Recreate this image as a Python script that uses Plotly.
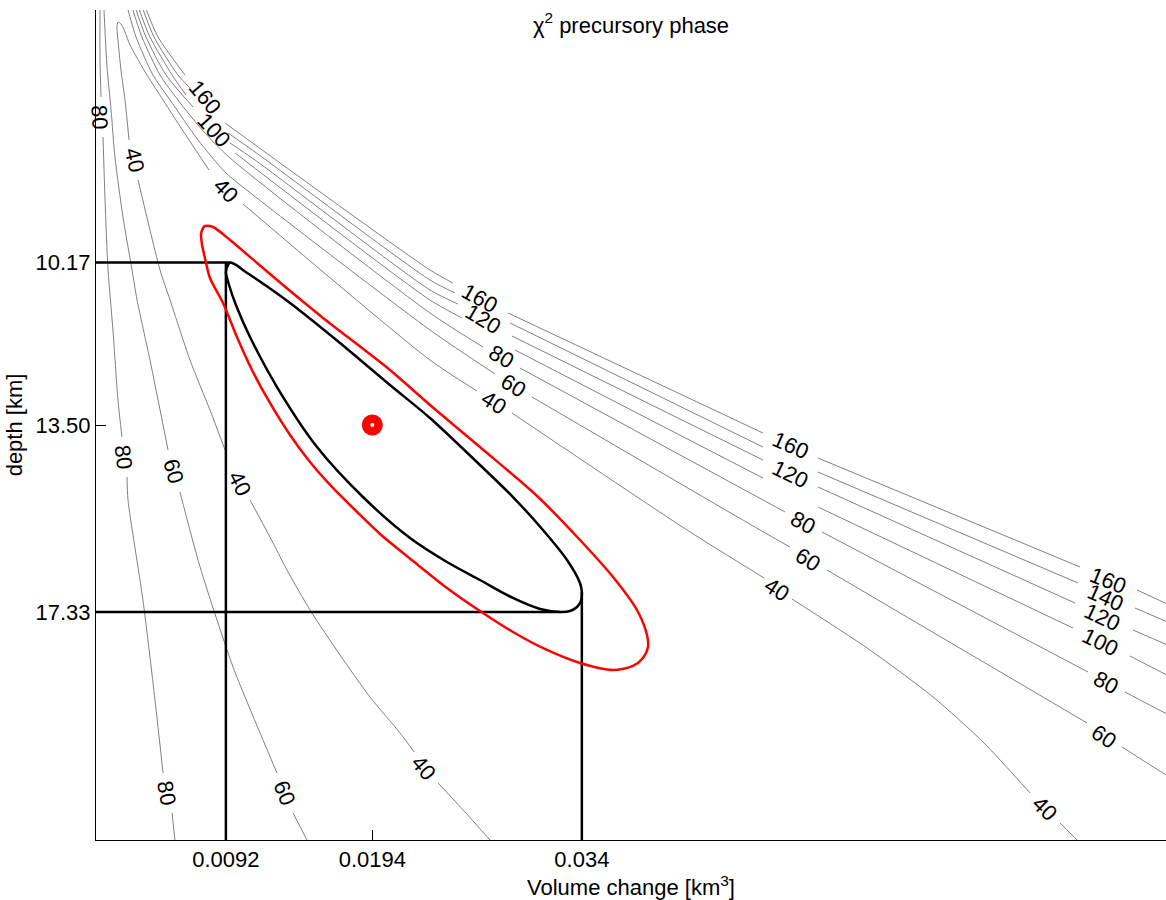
import plotly.graph_objects as go

FONT = "Liberation Sans, Arial, Helvetica, sans-serif"

# ---------------------------------------------------------------------------
# Chi-square misfit contours of the precursory phase.
# Each line is given as volume change [km^3] and source depth [km];
# None marks the break where the level's inline label sits.
# ---------------------------------------------------------------------------
chi40_vol = [0.0282, 0.02586, 0.02398, None, 0.02232, 0.02133, 0.01924, 0.01715,
             0.01506, 0.01346, 0.01227, 0.01088, None, 0.00914, 0.00809, 0.0067,
             0.00531, 0.00461, 0.00391, 0.00308, None, 0.00245, 0.00217, 0.00189,
             0.00168, 0.00161, 0.00168, 0.00189, 0.00217, 0.00252, 0.0037, 0.00482,
             0.00649, 0.00802, None, 0.01039, 0.02342, 0.0267, None, 0.02913,
             0.04133, 0.0467, None, 0.04864, 0.05387, 0.05847, 0.06195, 0.06523,
             None, 0.06732, 0.0685, 0.0692]
chi40_dep = [22.2, 21.426, 20.832, None, 20.198, 19.808, 19.071, 18.211,
             17.289, 16.47, 15.794, 15.036, None, 14.012, 13.193, 12.169,
             10.94, 10.325, 9.506, 8.482, None, 7.663, 6.843, 6.229,
             5.614, 5.369, 5.246, 5.287, 5.451, 5.717, 6.331, 6.843,
             7.601, 8.277, None, 8.973, 12.169, 12.804, None, 13.254,
             15.65, 16.634, None, 17.064, 18.067, 19.071, 19.993, 21.037,
             None, 21.652, 22.0, 22.2]

chi60_left_vol = [0.00069, 0.00092, 0.0012, 0.00147, 0.00203, 0.00266, 0.00301, 0.00391,
                  0.00517, None, 0.006, 0.0074, 0.0097, 0.01158, 0.01276, None,
                  0.01388, 0.01485, 0.0152]
chi60_left_dep = [4.9, 6.167, 7.048, 8.011, 9.24, 10.325, 10.94, 12.169,
                  14.012, None, 14.872, 16.408, 18.457, 19.808, 20.628, None,
                  21.447, 22.0, 22.2]

chi60_right_vol = [0.00229, 0.00294, 0.00412, 0.00531, 0.00726, 0.00914, 0.01109, 0.02342,
                   0.02795, None, 0.03053, 0.04641, 0.0485, None, 0.05108, 0.0692,
                   None, 0.07164, 0.07449, 0.07533]
chi60_right_dep = [4.9, 5.553, 6.331, 6.843, 7.663, 8.318, 8.789, 11.554,
                   12.455, None, 12.927, 15.65, 15.999, None, 16.47, 19.603,
                   None, 20.095, 20.628, 20.771]

chi80_left_vol = [0.00043, 0.00043, 0.0005, None, 0.00064, 0.00078, 0.00099, 0.00133,
                  0.00168, 0.00196, None, 0.00231, 0.00238, 0.00342, 0.00426, 0.00482,
                  None, 0.00545, 0.00565, 0.00572]
chi80_left_dep = [4.9, 6.024, 6.782, None, 7.601, 8.892, 10.325, 11.554,
                  12.988, 13.746, None, 14.565, 15.036, 17.084, 19.133, 20.628,
                  None, 21.447, 22.0, 22.2]

chi80_right_vol = [0.00262, 0.00335, 0.00461, 0.00586, 0.00761, 0.00949, 0.02342, 0.02711,
                   None, 0.02969, 0.04816, None, 0.05073, 0.06927, None, 0.07184,
                   0.07449, 0.07533]
chi80_right_dep = [4.9, 5.553, 6.331, 6.843, 7.478, 8.031, 11.206, 11.902,
                   None, 12.333, 15.282, None, 15.691, 18.559, None, 18.969,
                   19.378, 19.501]

chi100_vol = [0.00283, 0.00363, 0.00503, 0.00691, None, 0.00984, 0.02342, 0.02565,
              None, 0.02934, 0.04662, None, 0.05045, 0.06822, None, 0.07219,
              0.07449, 0.07533]
chi100_dep = [4.9, 5.553, 6.331, 6.987, None, 7.929, 10.94, 11.308,
              None, 11.964, 14.586, None, 15.179, 17.658, None, 18.231,
              18.58, 18.702]

chi120_vol = [0.00304, 0.00391, 0.00545, 0.00642, None, 0.00949, 0.01123, 0.02342,
              0.02537, None, 0.02913, 0.04662, None, 0.05045, 0.06836, None,
              0.0724, 0.07449, 0.07533]
chi120_dep = [4.9, 5.553, 6.331, 6.741, None, 7.724, 8.072, 10.735,
              11.022, None, 11.677, 14.217, None, 14.77, 17.146, None,
              17.699, 17.965, 18.067]

chi140_vol = [0.00332, 0.00419, 0.00586, 0.0067, None, 0.00935, 0.01123, 0.02342,
              0.02516, None, 0.029, 0.04662, None, 0.05045, 0.06857, None,
              0.07254, 0.07449, 0.07533]
chi140_dep = [4.9, 5.553, 6.331, 6.598, None, 7.519, 7.908, 10.53,
              10.796, None, 11.411, 13.951, None, 14.463, 16.736, None,
              17.248, 17.494, 17.596]

chi160_vol = [0.00353, 0.00447, 0.00635, None, 0.00914, 0.02342, 0.02502, None,
              0.02886, 0.04662, None, 0.05045, 0.06871, None, 0.07268, 0.07449,
              0.07533]
chi160_dep = [4.9, 5.553, 6.331, None, 7.314, 10.325, 10.592, None,
              11.206, 13.664, None, 14.176, 16.408, None, 16.879, 17.125,
              17.228]

contour_lines = [
    (chi40_vol, chi40_dep),
    (chi60_left_vol, chi60_left_dep),
    (chi60_right_vol, chi60_right_dep),
    (chi80_left_vol, chi80_left_dep),
    (chi80_right_vol, chi80_right_dep),
    (chi100_vol, chi100_dep),
    (chi120_vol, chi120_dep),
    (chi140_vol, chi140_dep),
    (chi160_vol, chi160_dep),
]

# inline contour labels: level text, volume, depth, text rotation (deg)
contour_labels = [
    ("80", 0.00043, 7.192, 86),
    ("40", 0.0028, 8.072, 77),
    ("160", 0.00774, 6.802, 50),
    ("100", 0.00837, 7.478, 48),
    ("40", 0.00921, 8.687, 45),
    ("160", 0.0269, 10.919, 29),
    ("120", 0.02718, 11.329, 31),
    ("80", 0.02837, 12.107, 30),
    ("60", 0.0292, 12.701, 32),
    ("40", 0.02788, 13.029, 32),
    ("160", 0.04857, 13.93, 24),
    ("120", 0.04857, 14.504, 26),
    ("80", 0.04941, 15.487, 28),
    ("60", 0.04976, 16.245, 32),
    ("40", 0.0476, 16.859, 33),
    ("160", 0.07066, 16.675, 22),
    ("140", 0.07045, 17.043, 24),
    ("120", 0.07031, 17.433, 25),
    ("100", 0.07017, 17.945, 26),
    ("80", 0.07052, 18.764, 28),
    ("60", 0.07038, 19.87, 34),
    ("40", 0.06627, 21.345, 45),
    ("80", 0.00203, 14.155, 83),
    ("60", 0.00551, 14.442, 74),
    ("40", 0.01018, 14.688, 63),
    ("80", 0.00503, 21.037, 80),
    ("60", 0.01325, 21.037, 68),
    ("40", 0.02293, 20.525, 50),
]

# best-fitting source
best_vol = 0.0194
best_dep = 13.50

# confidence region (black) and its extent
conf_vol = [0.01715, 0.02063, 0.02342, 0.0269, 0.0292, 0.03129, 0.03297, 0.03387,
            0.034, 0.03394, 0.03366, 0.03318, 0.0325, 0.03109, 0.0292, 0.0269,
            0.0246, 0.02203, 0.01875, 0.01555, 0.01276, 0.01088, 0.0099, 0.00942,
            0.0092, 0.00935, 0.0095, 0.0099, 0.01039, 0.01193, 0.01367, 0.01715]
conf_dep = [11.82, 12.681, 13.357, 14.319, 14.975, 15.65, 16.265, 16.736,
            16.92, 17.105, 17.228, 17.31, 17.33, 17.269, 17.043, 16.675,
            16.306, 15.815, 14.975, 13.951, 12.722, 11.698, 11.042, 10.633,
            10.37, 10.223, 10.17, 10.22, 10.325, 10.633, 11.001, 11.82]

vol_low, vol_high = 0.0092, 0.034
dep_top, dep_bottom = 10.17, 17.33
vol_at_top, vol_at_bottom = 0.0095, 0.0325
dep_at_right = 16.92

# wider error region (red)
ell_vol = [0.02063, 0.02342, 0.0269, 0.03088, 0.03387, 0.03617, 0.03784, 0.03854,
           0.03861, 0.03826, 0.03756, 0.03617, 0.03387, 0.03157, 0.0292, 0.0269,
           0.0246, 0.02224, 0.01994, 0.01834, 0.01666, 0.01506, 0.01367, 0.01227,
           0.01102, 0.00997, 0.009, 0.00809, 0.00774, 0.00754, 0.00747, 0.00761,
           0.00774, 0.0083, 0.00949, 0.01137, 0.01318, 0.01597, 0.02063]
ell_dep = [12.373, 13.09, 13.951, 14.954, 15.855, 16.613, 17.289, 17.801,
           18.047, 18.272, 18.436, 18.518, 18.375, 18.108, 17.74, 17.31,
           16.839, 16.286, 15.732, 15.282, 14.79, 14.258, 13.705, 13.049,
           12.373, 11.698, 11.001, 10.489, 10.079, 9.813, 9.588, 9.465,
           9.424, 9.445, 9.711, 10.182, 10.633, 11.308, 12.373]

vol_ticks = [0.0092, 0.0194, 0.034]
vol_tick_text = ["0.0092", "0.0194", "0.034"]
dep_ticks = [10.17, 13.50, 17.33]
dep_tick_text = ["10.17", "13.50", "17.33"]

vol_range = [0.00015, 0.0747]
dep_range = [22.0, 5.0]

TEXT_SIZE = 22

fig = go.Figure()

for vol, dep in contour_lines:
    fig.add_trace(go.Scatter(
        x=vol, y=dep, mode="lines", connectgaps=False,
        line=dict(color="#808080", width=1, shape="spline", smoothing=0.7),
        hoverinfo="skip", showlegend=False,
    ))

# extent lines of the confidence region
bound_style = dict(color="black", width=2.5)
fig.add_trace(go.Scatter(x=[0.0, vol_at_top], y=[dep_top, dep_top], mode="lines",
                         line=bound_style, hoverinfo="skip", showlegend=False))
fig.add_trace(go.Scatter(x=[vol_low, vol_low], y=[dep_top, 23.0], mode="lines",
                         line=bound_style, hoverinfo="skip", showlegend=False))
fig.add_trace(go.Scatter(x=[0.0, vol_at_bottom], y=[dep_bottom, dep_bottom], mode="lines",
                         line=bound_style, hoverinfo="skip", showlegend=False))
fig.add_trace(go.Scatter(x=[vol_high, vol_high], y=[dep_at_right, 23.0], mode="lines",
                         line=bound_style, hoverinfo="skip", showlegend=False))

fig.add_trace(go.Scatter(
    x=conf_vol, y=conf_dep, mode="lines",
    line=dict(color="black", width=2.5, shape="spline", smoothing=0.8),
    hoverinfo="skip", showlegend=False,
))
fig.add_trace(go.Scatter(
    x=ell_vol, y=ell_dep, mode="lines",
    line=dict(color="#ff0000", width=2.5, shape="spline", smoothing=0.8),
    hoverinfo="skip", showlegend=False,
))

# best-fit marker
fig.add_trace(go.Scatter(x=[best_vol], y=[best_dep], mode="markers",
                         marker=dict(symbol="circle", size=21, color="#ff0000"),
                         hoverinfo="skip", showlegend=False))
fig.add_trace(go.Scatter(x=[best_vol], y=[best_dep], mode="markers",
                         marker=dict(symbol="circle", size=4, color="white"),
                         hoverinfo="skip", showlegend=False))

for text, vol, dep, ang in contour_labels:
    fig.add_annotation(
        x=vol, y=dep, text=text, textangle=ang, showarrow=False,
        font=dict(family=FONT, size=TEXT_SIZE, color="black"),
        xanchor="center", yanchor="middle",
    )

fig.update_layout(
    width=1166, height=900,
    margin=dict(l=96, r=0, t=10, b=60),
    paper_bgcolor="white", plot_bgcolor="white",
    showlegend=False,
    font=dict(family=FONT, size=TEXT_SIZE, color="black"),
    title=dict(text="χ<sup>2</sup> precursory phase", x=0.5, xref="paper",
               xanchor="center", y=1 - 25 / 900, yref="container", yanchor="middle",
               font=dict(family=FONT, size=TEXT_SIZE, color="black")),
)

axis_common = dict(
    ticks="inside", ticklen=10, tickwidth=1, tickcolor="black",
    showline=True, linecolor="black", linewidth=1, mirror=False,
    showgrid=False, zeroline=False,
    tickfont=dict(family=FONT, size=TEXT_SIZE, color="black"),
)

fig.update_xaxes(range=vol_range, tickmode="array", tickvals=vol_ticks,
                 ticktext=vol_tick_text,
                 title=dict(text="Volume change [km<sup>3</sup>]", standoff=5,
                            font=dict(family=FONT, size=TEXT_SIZE)),
                 **axis_common)
fig.update_yaxes(range=dep_range, tickmode="array", tickvals=dep_ticks,
                 ticktext=dep_tick_text,
                 title=dict(text="depth [km]", standoff=6,
                            font=dict(family=FONT, size=TEXT_SIZE)),
                 **axis_common)

fig.write_html("out.html")
